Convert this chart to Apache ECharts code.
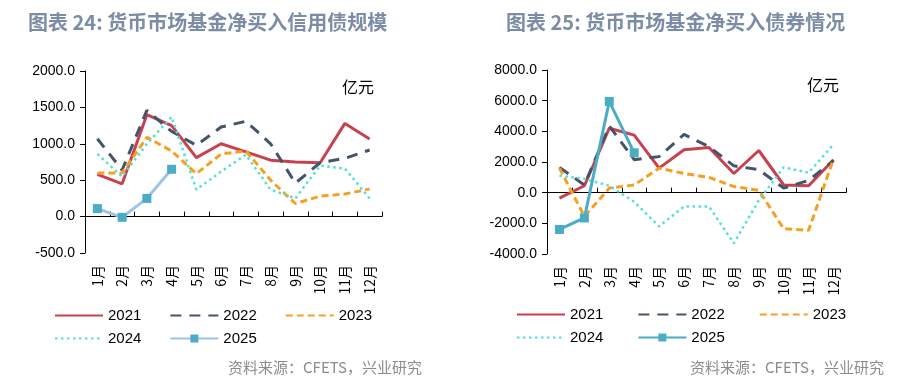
<!DOCTYPE html>
<html><head><meta charset="utf-8">
<script src="https://cdn.jsdelivr.net/npm/echarts@6/dist/echarts.min.js"></script>
<style>html,body{margin:0;padding:0;background:#fff}#c{width:913px;height:384px}</style>
</head><body><div id="c"></div>
<script>
// ---- data ----
const months = ['1月','2月','3月','4月','5月','6月','7月','8月','9月','10月','11月','12月'];
// Chart 24: net purchase of credit bonds (亿元)
const credit2021 = [580, 450, 1400, 1250, 810, 1000, 890, 775, 750, 740, 1280, 1065];
const credit2022 = [1070, 640, 1460, 1170, 980, 1230, 1310, 1000, 460, 740, 800, 915];
const credit2023 = [600, 600, 1090, 900, 590, 860, 900, 500, 180, 280, 310, 380];
const credit2024 = [860, 550, 1000, 1370, 370, 620, 850, 370, 250, 700, 660, 250];
const credit2025 = [110, -10, 250, 650];
const creditTicks = {min: -500, max: 2000, interval: 500};
// Chart 25: net purchase of bonds (亿元)
const bond2021 = [-350, 450, 4200, 3750, 1600, 2800, 2950, 1250, 2750, 500, 450, 2150];
const bond2022 = [1650, 500, 4350, 2150, 2350, 3800, 3000, 1750, 1500, 300, 800, 2100];
const bond2023 = [1600, -1550, 300, 500, 1600, 1250, 1000, 400, 150, -2350, -2450, 2200];
const bond2024 = [1100, 900, 450, -600, -2200, -900, -900, -3300, -500, 1650, 1300, 3150];
const bond2025 = [-2400, -1650, 5950, 2600];
const bondTicks = {min: -4000, max: 8000, interval: 2000};
const years = ['2021','2022','2023','2024','2025'];
const markerYears = ['2025'];

// ---- styles ----
const C = {r:'#c9404f', n:'#44546a', o:'#f5a022', c:'#52e0da', lb:'#9dc3e6', t:'#4bacc6'};
const sans = '"Liberation Sans", Arial, sans-serif';
const cjk = '"Noto Sans CJK SC", "Noto Sans", sans-serif';

function lineS(name, data, color, width, type, xi, yi, extra) {
  return Object.assign({
    name, type: 'line', data, xAxisIndex: xi, yAxisIndex: yi,
    symbol: 'none', animation: false,
    lineStyle: {color, width, type, cap: 'butt'},
    itemStyle: {color}
  }, extra || {});
}

function axesFor(gi, ticks) {
  const x0 = {
    type: 'category', data: months, gridIndex: gi, boundaryGap: true,
    axisLine: {show: false, onZero: false}, axisTick: {show: false},
    axisLabel: {rotate: 90, margin: 12, fontSize: 14, color: '#000', fontFamily: cjk, interval: 0}
  };
  const x1 = {
    type: 'category', data: months, gridIndex: gi, boundaryGap: true,
    axisLine: {show: true, onZero: true, lineStyle: {color: '#000', width: 1}},
    axisTick: {show: true, inside: false, length: 5, lineStyle: {color: '#000'}, interval: 0},
    axisLabel: {show: false}
  };
  const y = {
    type: 'value', gridIndex: gi, min: ticks.min, max: ticks.max, interval: ticks.interval,
    axisLine: {show: true, lineStyle: {color: '#000'}},
    axisTick: {show: true, length: 5, lineStyle: {color: '#000'}},
    splitLine: {show: false},
    axisLabel: {margin: 10, fontSize: 14, color: '#000', fontFamily: sans,
      formatter: v => v.toFixed(1)}
  };
  return {x: [x0, x1], y};
}
const a0 = axesFor(0, creditTicks), a1 = axesFor(1, bondTicks);

const legendBase = {
  selectedMode: false, itemWidth: 48, itemHeight: 10,
  textStyle: {fontSize: 15, color: '#000', fontFamily: sans, padding: [0,0,0,0]},
  formatter: n => n.replace('R', '')
};
function legItems(names) {
  return names.map(n => markerYears.indexOf(n.replace('R','')) >= 0
    ? {name: n} : {name: n, itemStyle: {opacity: 0}});
}

const option = {
  animation: false,
  grid: [
    {left: 85, top: 71, width: 297, height: 182},
    {left: 547, top: 70, width: 299, height: 184}
  ],
  xAxis: [a0.x[0], a0.x[1], a1.x[0], a1.x[1]],
  yAxis: [a0.y, a1.y],
  legend: [
    Object.assign({}, legendBase, {data: legItems(years.slice(0,3)), left: 49, top: 303, itemGap: 28}),
    Object.assign({}, legendBase, {data: legItems(years.slice(3)), left: 49, top: 326, itemGap: 28}),
    Object.assign({}, legendBase, {data: legItems(years.slice(0,3).map(y => 'R'+y)), left: 511, top: 302, itemGap: 34}),
    Object.assign({}, legendBase, {data: legItems(years.slice(3).map(y => 'R'+y)), left: 511, top: 325, itemGap: 34})
  ],
  series: [
    lineS('2021', credit2021, C.r, 3, 'solid', 0, 0),
    lineS('2022', credit2022, C.n, 3, [11, 8], 0, 0),
    lineS('2023', credit2023, C.o, 3, [7, 4], 0, 0),
    lineS('2024', credit2024, C.c, 2.5, [2.5, 3.5], 0, 0),
    lineS('2025', credit2025, C.lb, 3, 'solid', 0, 0,
      {symbol: 'rect', symbolSize: 9, itemStyle: {color: C.t}}),
    lineS('R2021', bond2021, C.r, 3, 'solid', 2, 1),
    lineS('R2022', bond2022, C.n, 3, [11, 8], 2, 1),
    lineS('R2023', bond2023, C.o, 3, [7, 4], 2, 1),
    lineS('R2024', bond2024, C.c, 2.5, [2.5, 3.5], 2, 1),
    lineS('R2025', bond2025, C.t, 3, 'solid', 2, 1,
      {symbol: 'rect', symbolSize: 9, itemStyle: {color: C.t}})
  ],
  graphic: [
    {type: 'text', x: 28, y: 22, style: {text: '图表 24: 货币市场基金净买入信用债规模',
      font: 'bold 20px ' + cjk, fill: '#7d8ca6', textVerticalAlign: 'middle'}},
    {type: 'text', x: 506, y: 22, style: {text: '图表 25: 货币市场基金净买入债券情况',
      font: 'bold 20px ' + cjk, fill: '#7d8ca6', textVerticalAlign: 'middle'}},
    {type: 'text', x: 358, y: 87, style: {text: '亿元', font: '16px ' + cjk, fill: '#000',
      textAlign: 'center', textVerticalAlign: 'middle'}},
    {type: 'text', x: 823, y: 85, style: {text: '亿元', font: '16px ' + cjk, fill: '#000',
      textAlign: 'center', textVerticalAlign: 'middle'}},
    {type: 'text', x: 422, y: 367, style: {text: '资料来源：CFETS，兴业研究', font: '15px ' + cjk,
      fill: '#8c8c8c', textAlign: 'right', textVerticalAlign: 'middle'}},
    {type: 'text', x: 884, y: 367, style: {text: '资料来源：CFETS，兴业研究', font: '15px ' + cjk,
      fill: '#8c8c8c', textAlign: 'right', textVerticalAlign: 'middle'}}
  ]
};
const chart = echarts.init(document.getElementById('c'), null, {renderer: 'canvas'});
chart.setOption(option);
</script></body></html>
